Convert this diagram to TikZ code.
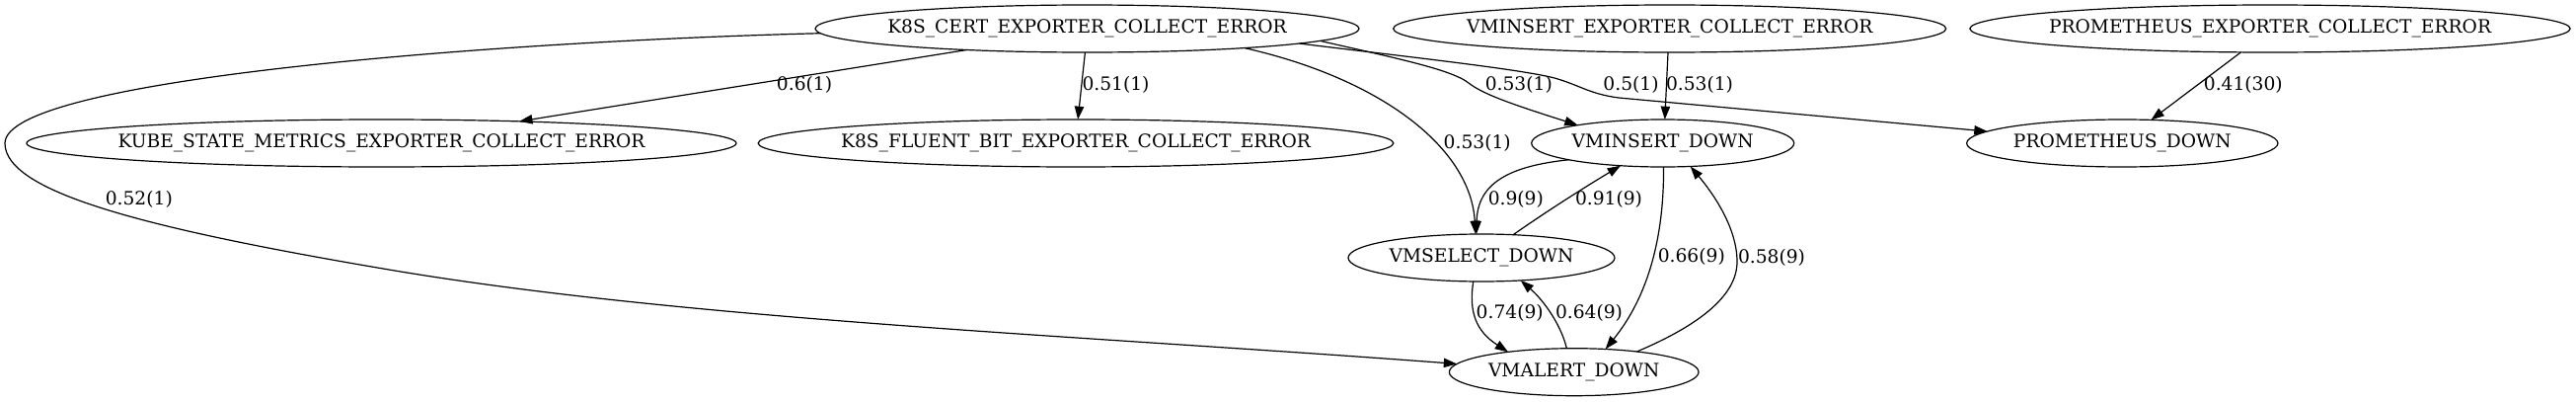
\documentclass[tikz,border=0pt]{standalone}
\usepackage{fontspec}
\setmainfont{DejaVu Serif}
\usetikzlibrary{shapes.geometric,arrows.meta}
\begin{document}
\begin{tikzpicture}[x=0.75pt,y=-0.75pt,
  state/.style={draw, ellipse, inner sep=0pt, outer sep=0pt, minimum height=36pt,
    line width=0.9pt, font=\fontsize{14}{16}\selectfont},
  lbl/.style={inner sep=0pt, font=\fontsize{14}{16}\selectfont},
  conn/.style={draw, line width=0.9pt, -{Triangle[length=10pt,width=7pt]}}]
\fill[white] (0,0) rectangle (2610,407);
\useasboundingbox (0,0) rectangle (2610,407);

% nodes
\node[state, minimum width=413.25pt] (k8s) at (1101.5,29) {\makebox[0pt]{K8S\_CERT\_EXPORTER\_COLLECT\_ERROR}};
\node[state, minimum width=420pt] (vmexp) at (1691.7,29) {\makebox[0pt]{VMINSERT\_EXPORTER\_COLLECT\_ERROR}};
\node[state, minimum width=456.2pt] (promexp) at (2300,29) {\makebox[0pt]{PROMETHEUS\_EXPORTER\_COLLECT\_ERROR}};
\node[state, minimum width=539.25pt] (kube) at (386.5,145) {\makebox[0pt]{KUBE\_STATE\_METRICS\_EXPORTER\_COLLECT\_ERROR}};
\node[state, minimum width=482.8pt] (fluent) at (1090,145) {\makebox[0pt]{K8S\_FLUENT\_BIT\_EXPORTER\_COLLECT\_ERROR}};
\node[state, minimum width=199.5pt] (vminsert) at (1684.7,145) {\makebox[0pt]{VMINSERT\_DOWN}};
\node[state, minimum width=236.5pt] (promdown) at (2150.3,145) {\makebox[0pt]{PROMETHEUS\_DOWN}};
\node[state, minimum width=202.5pt] (vmselect) at (1501,261) {\makebox[0pt]{VMSELECT\_DOWN}};
\node[state, minimum width=189.5pt] (vmalert) at (1594.7,376.7) {\makebox[0pt]{VMALERT\_DOWN}};

% edges
\draw[conn] (k8s.190) -- (kube.9);
\draw[conn] (k8s.-95.7) -- (fluent.85);
\draw[conn] (k8s.-7.2) .. controls (1400,80) and (1490,150) .. (vmselect.104);
\draw[conn] (k8s.-3.2) .. controls (1410,58) and (1470,70) .. (1488,84)
  .. controls (1502,95) and (1530,105) .. (vminsert.168.4);
\draw[conn] (k8s.-4.5) .. controls (1430,58) and (1540,70) .. (1575,79)
  .. controls (1600,86) and (1610,95) .. (1640,99) -- (promdown.175);
\draw[conn] (k8s.181.2) .. controls (500,42) and (5,80) .. (5,145)
  .. controls (5,195) and (150,232) .. (400,274)
  .. controls (700,324) and (1100,340) .. (vmalert.176);
\draw[conn] (vmexp.-94) -- (vminsert.85);
\draw[conn] (promexp.219.5) -- (promdown.39);
\draw[conn] (vminsert.190.4) .. controls (1530,168) and (1497,185) .. (vmselect.102);
\draw[conn] (vmselect.36.5) .. controls (1570,212) and (1605,190) .. (vminsert.208);
\draw[conn] (vminsert.-88) .. controls (1686,240) and (1670,300) .. (vmalert.36);
\draw[conn] (vmalert.18) .. controls (1720,330) and (1760,300) .. (1760,265)
  .. controls (1760,230) and (1735,195) .. (vminsert.-40);
\draw[conn] (vmselect.-109) .. controls (1488,315) and (1495,335) .. (vmalert.163);
\draw[conn] (vmalert.107) .. controls (1582,330) and (1565,305) .. (vmselect.-30);

% edge labels
\node[lbl] (l1) at (815,86) {0.6(1)};
\node[lbl] (l2) at (1130.5,86) {0.51(1)};
\node[lbl] (l3) at (1496.7,145) {0.53(1)};
\node[lbl] (l4) at (1538.8,86) {0.53(1)};
\node[lbl] (l5) at (1652.5,86) {0.5(1)};
\node[lbl] (l6) at (140.8,201.7) {0.52(1)};
\node[lbl] (l7) at (1722,86) {0.53(1)};
\node[lbl] (l8) at (2272.8,86) {0.41(30)};
\node[lbl] (l9) at (1535.8,201.7) {0.9(9)};
\node[lbl] (l10) at (1630,201.7) {0.91(9)};
\node[lbl] (l11) at (1713.8,260) {0.66(9)};
\node[lbl] (l12) at (1795,261) {0.58(9)};
\node[lbl] (l13) at (1529.7,317.3) {0.74(9)};
\node[lbl] (l14) at (1610,317.3) {0.64(9)};
\end{tikzpicture}
\end{document}
